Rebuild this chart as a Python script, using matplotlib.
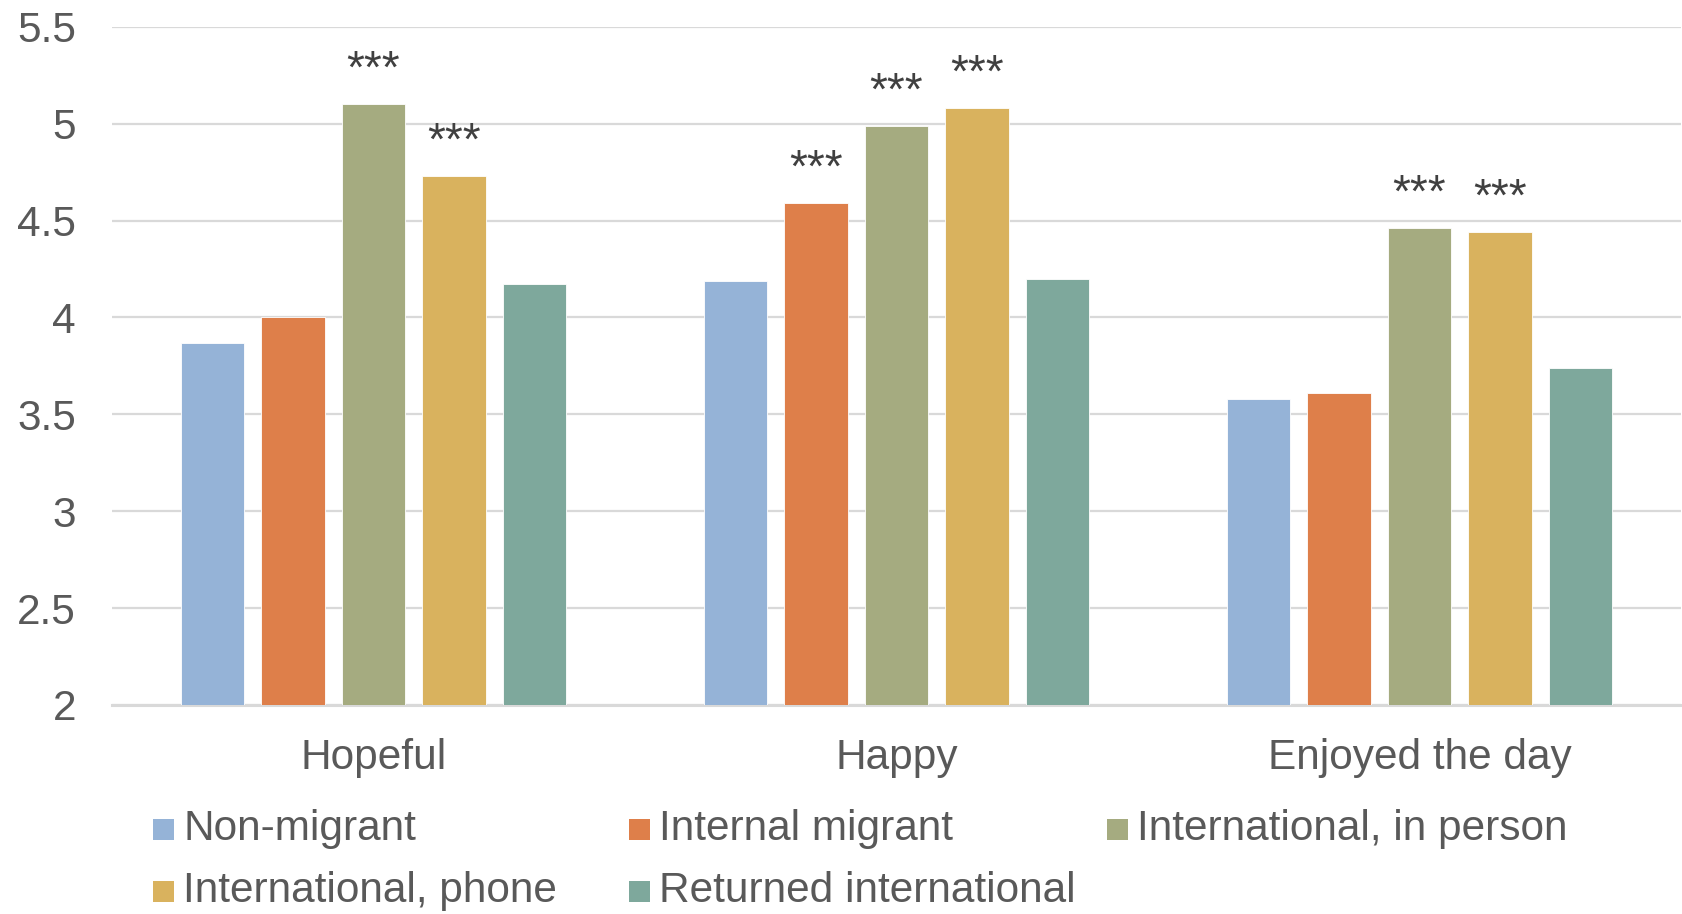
import matplotlib
matplotlib.use("Agg")
import matplotlib.pyplot as plt
import numpy as np
from matplotlib.patches import Rectangle

plt.rcParams['font.family'] = ['Liberation Sans', 'DejaVu Sans']

categories = ["Hopeful", "Happy", "Enjoyed the day"]
series_names = ["Non-migrant", "Internal migrant", "International, in person",
                "International, phone", "Returned international"]
non_migrant = [3.87, 4.19, 3.58]
internal_migrant = [4.00, 4.59, 3.61]
intl_in_person = [5.10, 4.99, 4.46]
intl_phone = [4.73, 5.08, 4.44]
returned_intl = [4.17, 4.20, 3.74]
# significance markers per series and category
stars = [
    ["", "", ""],
    ["", "***", ""],
    ["***", "***", "***"],
    ["***", "***", "***"],
    ["", "", ""],
]
colors = ["#95B3D7", "#DE7F4A", "#A5AB80", "#D9B25E", "#7EA89C"]
yticks = [2, 2.5, 3, 3.5, 4, 4.5, 5, 5.5]
ytick_labels = ["2", "2.5", "3", "3.5", "4", "4.5", "5", "5.5"]

values = [non_migrant, internal_migrant, intl_in_person, intl_phone, returned_intl]

fig = plt.figure(figsize=(16.82, 9.14), dpi=100)
ax = fig.add_axes([0.0666, 0.2287, 0.9328, 0.742])

x = np.arange(len(categories))
pitch = 0.1538
width = 0.121
for i, (vals, col) in enumerate(zip(values, colors)):
    pos = x + (i - 2) * pitch
    ax.bar(pos, np.array(vals) - 2, bottom=2, width=width, color=col,
           edgecolor="white", linewidth=0.6, zorder=3)
    for p, v, s in zip(pos, vals, stars[i]):
        if s:
            ax.text(p, v + 0.11, s, ha="center", va="baseline",
                    fontsize=33, color="#404040", zorder=4)

ax.set_xlim(-0.5, len(categories) - 0.5)
ax.set_ylim(2, 5.5)
ax.set_yticks(yticks)
ax.set_yticklabels(ytick_labels)
ax.set_xticks(x)
ax.set_xticklabels(categories)
ax.yaxis.grid(True, color="#D9D9D9", linewidth=1.6, zorder=0)
ax.set_axisbelow(True)
for side in ["top", "right", "left"]:
    ax.spines[side].set_visible(False)
ax.spines["bottom"].set_color("#D9D9D9")
ax.spines["bottom"].set_linewidth(2.2)
ax.tick_params(axis="y", length=0, pad=26, labelsize=30.5, labelcolor="#595959")
ax.tick_params(axis="x", length=0, pad=24, labelsize=30.5, labelcolor="#595959")

# legend laid out on a fixed grid, row by row
col_x = [0.0910, 0.3740, 0.6582]
row_y = [0.0928, 0.0250]
sq_w, sq_h = 21 / 1682, 21 / 914
for k, (name, col) in enumerate(zip(series_names, colors)):
    r, c = divmod(k, 3)
    fig.patches.append(Rectangle((col_x[c], row_y[r] - sq_h / 2), sq_w, sq_h,
                                 transform=fig.transFigure, facecolor=col,
                                 edgecolor="none"))
    fig.text(col_x[c] + 0.0178, row_y[r], name, ha="left", va="center",
             fontsize=30.5, color="#595959")

fig.savefig("out.png", dpi=100)
